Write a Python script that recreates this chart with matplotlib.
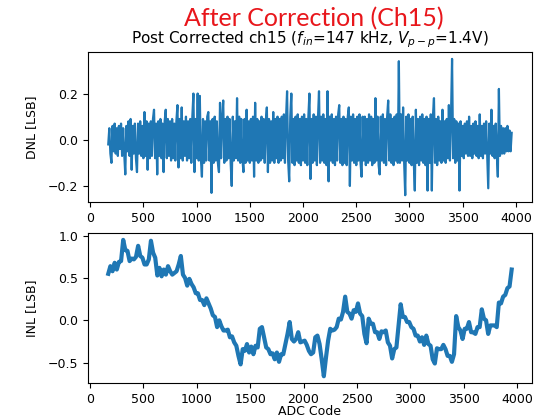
import numpy as np
import matplotlib
matplotlib.use('Agg')
import matplotlib.pyplot as plt

# ADC codes (DNL sampled every 10 codes, INL every 20 codes)
dnl_codes = np.arange(170, 3970, 10)
inl_codes = np.arange(170, 3970, 20)

dnl = [
    -.02, .05, -.06, -.10, .06, -.05, .07, -.06, .05, -.07, .06, -.04, .07, -.07, .05, -.06, -.15, .06, -.05, .08,
    -.07, .09, -.13, .06, -.06, .07, -.08, -.14, .07, -.06, .08, -.07, .06, -.08, .12, -.07, .08, -.13, .07, -.08,
    .08, -.07, .09, .13, -.08, .07, -.15, .08, -.07, .09, -.08, .07, -.14, .08, .13, -.08, .09, -.07, .08, -.09,
    .09, -.08, .07, -.09, .08, .15, -.12, .09, -.08, .14, -.09, .08, -.07, .10, -.09, .08, -.08, .09, -.10, .10,
    .20, -.14, .09, -.08, .20, -.09, .19, -.08, -.16, .09, -.10, .08, -.09, .10, .12, -.09, .08, -.23, .09, -.10,
    .10, -.09, .08, -.10, -.14, .16, -.08, .09, .17, -.10, .09, -.09, .10, -.08, .09, -.10, -.20, .10, -.09, .08,
    -.08, .18, -.09, .10, -.10, .09, -.08, -.14, .09, -.10, .13, -.09, .08, -.10, .09, -.09, .10, -.16, .16, -.09,
    .09, -.10, .08, -.09, .10, -.08, .09, -.10, .08, .14, -.14, .09, -.10, .08, -.09, .12, -.10, .09, -.08, .10,
    -.10, .09, -.09, .10, -.08, .11, -.10, .09, .21, -.09, -.18, .10, .20, -.10, .09, -.11, .10, -.09, .11, -.10,
    .09, -.11, .10, -.09, .11, -.10, .09, -.11, .10, .20, -.17, .09, -.10, .11, -.09, .10, -.11, .09, .21, -.10,
    .10, -.09, .11, -.10, .09, -.11, .21, -.18, .10, -.09, .11, -.10, .09, -.11, .10, -.09, .11, .15, -.10, .09,
    -.11, .10, -.10, .09, -.11, .10, .14, -.20, .10, -.09, .11, -.10, .09, -.11, .10, -.09, .11, -.10, -.16, .10,
    -.09, .10, -.11, .09, -.10, .11, -.09, .10, -.11, .09, -.10, .18, -.09, .10, -.11, -.15, .10, -.09, .11, -.10,
    .09, -.11, .10, .17, -.09, .11, -.10, .09, -.11, .10, -.09, .11, -.10, .34, -.10, .11, -.09, .14, -.10, -.24,
    .10, -.09, .11, -.10, .09, -.11, .10, -.09, -.22, .13, -.10, .09, -.11, .10, -.09, .11, -.10, .09, -.11, .10,
    -.22, .09, -.10, .11, -.22, .10, .18, -.10, .09, -.11, .10, -.09, .08, -.10, .13, -.09, .08, -.10, .09, -.08,
    .15, -.09, .10, .35, -.08, .09, -.10, .08, -.09, .07, -.22, .08, -.07, .06, -.08, .07, -.06, .08, -.07, .10,
    -.07, .06, -.08, .07, -.06, .08, -.07, .06, -.08, .11, -.07, .06, -.08, .07, -.06, .08, -.07, -.21, .07, -.06,
    .13, -.07, .06, -.08, .07, -.06, -.16, .22, -.07, .06, -.06, .05, -.06, .05, -.05, .06, -.05, .04, -.05, .03,
]

inl = [
    .55, .64, .58, .68, .60, .69, .70, .95, .83, .82,
    .70, .73, .72, .75, .88, .76, .74, .66, .66, .72,
    .94, .80, .74, .53, .62, .52, .60, .54, .64, .58,
    .54, .56, .58, .66, .76, .54, .50, .41, .49, .43,
    .39, .32, .32, .24, .24, .18, .26, .20, .14, .06,
    .04, -.08, .00, -.07, -.12, -.12, -.11, -.20, -.19, -.26,
    -.30, -.42, -.52, -.34, -.36, -.28, -.38, -.31, -.40, -.30,
    -.32, -.10, -.08, -.20, -.32, -.34, -.40, -.39, -.46, -.38,
    -.49, -.40, -.40, -.28, -.16, -.02, -.22, -.25, -.22, -.14,
    -.26, -.25, -.24, -.29, -.36, -.40, -.38, -.20, -.18, -.28,
    -.46, -.66, -.44, -.24, -.10, -.12, -.11, -.08, .02, .01,
    .10, .28, .10, .08, .02, .12, .10, .20, .08, .05,
    -.16, -.27, .02, -.04, -.04, -.14, -.14, -.22, -.13, -.14,
    -.12, -.26, -.30, -.45, -.34, -.32, -.06, .19, .04, .04,
    -.02, -.02, -.08, -.10, -.18, -.18, -.25, -.20, -.29, -.18,
    -.28, -.30, -.46, -.51, -.33, -.34, -.34, -.29, -.34, -.42,
    -.42, -.49, -.40, .05, -.08, -.12, -.22, -.10, -.10, -.02,
    -.14, -.14, -.16, -.08, -.08, .13, .02, .00, -.16, -.06,
    -.06, -.06, -.08, .21, .20, .28, .30, .38, .40, .60,
]

fig = plt.figure(figsize=(5.54, 4.2), dpi=100)
ax1 = fig.add_axes([0.159, 0.519, 0.801, 0.357])
ax2 = fig.add_axes([0.159, 0.088, 0.801, 0.357])

ax1.plot(dnl_codes, dnl, color='#1f77b4', linewidth=1.6)
ax1.set_title('Post Corrected ch15 ($f_{in}$=147 kHz, $V_{p-p}$=1.4V)', fontsize=11)
ax1.set_ylabel('DNL [LSB]', fontsize=9)
ax1.set_xticks(np.arange(0, 4001, 500))
ax1.set_yticks([-0.2, 0.0, 0.2])

ax2.plot(inl_codes, inl, color='#1f77b4', linewidth=3.0)
ax2.set_ylabel('INL [LSB]', fontsize=9)
ax2.set_xlabel('ADC Code', fontsize=9)
ax2.set_xticks(np.arange(0, 4001, 500))
ax2.set_yticks([-0.5, 0.0, 0.5, 1.0])
ax2.xaxis.set_label_coords(0.5, -0.145)

for ax in (ax1, ax2):
    ax.tick_params(labelsize=9)
    ax.yaxis.set_label_coords(-0.113, 0.5)

fig.text(0.567, 0.955, 'After Correction (Ch15)', color='#e8161b',
         fontsize=18, family='Lato', ha='center', va='center')

fig.savefig('out.png', dpi=100)
